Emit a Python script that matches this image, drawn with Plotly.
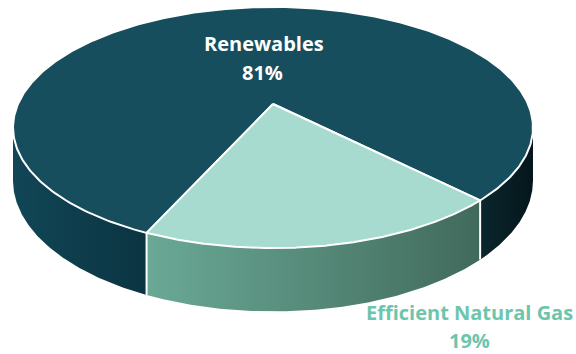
import numpy as np
import plotly.graph_objects as go

# ---- data ----
labels = ["Renewables", "Efficient Natural Gas"]
values = [81, 19]
pct_text = ["81%", "19%"]

# ---- style ----
top_colors = ["#174e5d", "#a8dbcf"]
side_grad = {
    0: [("#114656", "#0b3442"), ("#0a262d", "#04161b")],
    1: [("#6aa996", "#416a5c")],
}
label_colors = ["#ffffff", "#6cc5ac"]
FONT = "Open Sans"

W, H = 576, 354
CX, CY = 273, 104          # projected centre of the pie
A, B, K = 255, 116, 0.195  # radii and perspective factor
DEPTH = 51
START = -45.65             # degrees, counterclockwise


def proj(theta_deg):
    t = np.radians(theta_deg)
    u, v = np.cos(t), np.sin(t)
    w = 1 + K * v
    return CX + A * u / w, CY - B * v / w, DEPTH / w


total = sum(values)
bounds = []
a0 = START
for val in values:
    a1 = a0 + val / total * 360.0
    bounds.append((a0, a1))
    a0 = a1

vis_lo = 180 + np.degrees(np.arcsin(K))
vis_hi = 360 - np.degrees(np.arcsin(K))

fig = go.Figure()


def visible_parts(a0, a1):
    parts = []
    for off in (-360, 0, 360):
        lo, hi = max(a0 + off, vis_lo), min(a1 + off, vis_hi)
        if hi > lo:
            parts.append((lo, hi))
    return sorted(parts)


# sides
for i, (a0, a1) in enumerate(bounds):
    parts = visible_parts(a0, a1)
    for j, (lo, hi) in enumerate(parts):
        th = np.linspace(lo, hi, 120)
        x, y, d = proj(th)
        xs = np.concatenate([x, x[::-1]])
        ys = np.concatenate([y, (y + d)[::-1]])
        c1, c2 = side_grad[i][min(j, len(side_grad[i]) - 1)]
        fig.add_trace(go.Scatter(
            x=xs, y=ys, mode="lines", fill="toself",
            line=dict(width=0),
            fillgradient=dict(type="horizontal", colorscale=[[0, c1], [1, c2]]),
            hoverinfo="skip", showlegend=False))

# vertical separators at slice boundaries on the visible side
for (a0, a1) in bounds:
    angn = a0 % 360
    if vis_lo < angn < vis_hi:
        x, y, d = proj(angn)
        fig.add_trace(go.Scatter(x=[x, x], y=[y, y + d], mode="lines",
                                 line=dict(color="white", width=2),
                                 hoverinfo="skip", showlegend=False))

# top faces
for i, (a0, a1) in enumerate(bounds):
    th = np.linspace(a0, a1, 400)
    x, y, _ = proj(th)
    xs = np.concatenate([[CX], x, [CX]])
    ys = np.concatenate([[CY], y, [CY]])
    fig.add_trace(go.Scatter(
        x=xs, y=ys, mode="lines", fill="toself", fillcolor=top_colors[i],
        line=dict(color="white", width=2), hoverinfo="skip", showlegend=False))

# labels
fig.add_annotation(x=264, y=43, text="<b>%s</b>" % labels[0], showarrow=False,
                   font=dict(family=FONT, size=20, color=label_colors[0]))
fig.add_annotation(x=262, y=72, text="<b>%s</b>" % pct_text[0], showarrow=False,
                   font=dict(family=FONT, size=20, color=label_colors[0]))
fig.add_annotation(x=469, y=312, text="<b>%s</b>" % labels[1], showarrow=False,
                   font=dict(family=FONT, size=20, color=label_colors[1]))
fig.add_annotation(x=469, y=340, text="<b>%s</b>" % pct_text[1], showarrow=False,
                   font=dict(family=FONT, size=20, color=label_colors[1]))

fig.update_layout(
    width=W, height=H, margin=dict(l=0, r=0, t=0, b=0),
    paper_bgcolor="white", plot_bgcolor="white",
    xaxis=dict(range=[0, W], visible=False, fixedrange=True),
    yaxis=dict(range=[H, 0], visible=False, fixedrange=True),
    showlegend=False,
)

fig.write_html("out.html")
